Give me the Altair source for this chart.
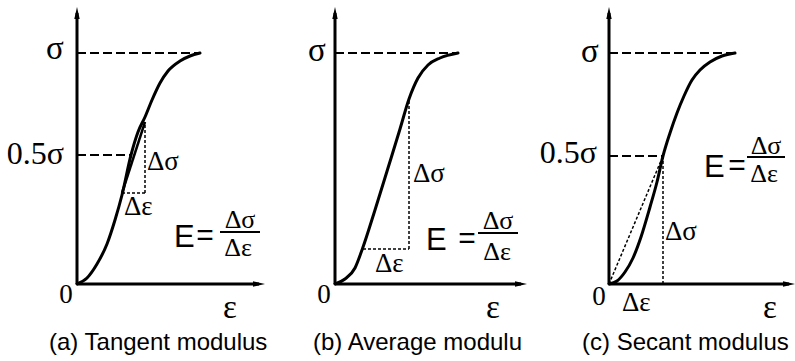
import altair as alt
import pandas as pd

# ---------------- data (ε, σ in diagram units measured from each origin) ----------------
# stress-strain curves
A_EPS = [0, 10, 20, 30, 38, 45, 54, 61, 68, 75, 83, 91, 103, 113, 123]
A_SIG = [0, 6, 20, 40, 64, 89, 129, 152, 167, 184, 201, 213, 223, 228, 231]
B_EPS = [0, 10, 20, 27, 40, 53, 65, 74, 83, 93, 105, 123]
B_SIG = [0, 5, 16, 34, 74, 116, 155, 185, 206, 219, 226, 231]
C_EPS = [0, 8, 16, 24, 32, 41, 48, 54, 61, 68, 75, 83, 91, 101, 113, 126]
C_SIG = [0, 3, 12, 26, 47, 77, 102, 128, 151, 171, 188, 204, 214, 222, 228, 231]

# axis ends (arrow positions)
AXIS_X_END = [182, 186, 180]
AXIS_Y_END = [271, 271, 271]

# dashed guide lines (e1, s1, e2, s2)
A_DASH = [(0, 231, 123, 231), (0, 129, 54, 129)]
B_DASH = [(0, 231, 123, 231)]
C_DASH = [(0, 231, 126, 231), (0, 128, 54, 128)]

# dotted construction lines
A_DOT = [(68, 91, 68, 162), (45, 91, 68, 91)]
B_DOT = [(28, 35, 74, 35), (74, 35, 74, 187)]
C_DOT = [(0, 0, 54, 128), (54, 0, 54, 128)]

# solid tangent segment (panel a)
A_TAN = [(45, 91, 68, 162)]

# fraction bars of E = Δσ/Δε
A_BAR = [(143, 52, 183, 52)]
B_BAR = [(143, 51, 183, 51)]
C_BAR = [(138, 127, 176, 127)]

# labels: (text, ε, σ)
A_SIGMA = [("σ", -22, 225)]
B_SIGMA = [("σ", -18, 223)]
C_SIGMA = [("σ", -19, 222)]
A_HALF = [("0.5σ", -13, 120)]
C_HALF = [("0.5σ", -12, 121)]
A_ZERO = [("0", -11, -19)]
B_ZERO = [("0", -11, -19)]
C_ZERO = [("0", -10, -21)]
A_EPSL = [("ε", 153, -34)]
B_EPSL = [("ε", 158, -34)]
C_EPSL = [("ε", 161, -34)]
A_DELTA = [("Δσ", 70, 114), ("Δε", 47, 69)]
B_DELTA = [("Δσ", 78, 102), ("Δε", 40, 12)]
C_DELTA = [("Δσ", 56, 44), ("Δε", 13, -27)]
A_FRAC = [("Δσ", 163, 56), ("Δε", 161, 28)]
B_FRAC = [("Δσ", 163, 55), ("Δε", 162, 24)]
C_FRAC = [("Δσ", 157, 130), ("Δε", 155, 102)]
A_E = [("E", 97, 37)]
B_E = [("E", 91, 34)]
C_E = [("E", 95, 107)]
A_EQ = [("=", 128, 39)]
B_EQ = [("=", 132, 36)]
C_EQ = [("=", 128, 109)]
TITLES = ["(a) Tangent modulus", "(b) Average modulu", "(c) Secant modulus"]
TITLE_POS = [(-28, -66), (-22, -66), (-27, -66)]

# ---------------- layout ----------------
PANEL_W = 265
PANEL_H = 361
ORIGIN_X = [77, 70, 79]   # origin offset inside each panel
ORIGIN_Y = 284            # origin offset from the top

SERIF = "Liberation Serif"
SANS = "Liberation Sans"


def seg_df(segs):
    return pd.DataFrame(segs, columns=["e", "s", "e2", "s2"])


def lab_df(labs):
    return pd.DataFrame(labs, columns=["t", "e", "s"])


def build_panel(i, ce, cs, dash, dot, tan, bar, texts):
    ox = ORIGIN_X[i]
    xs = alt.Scale(domain=[-ox, PANEL_W - ox], nice=False, zero=False)
    ys = alt.Scale(domain=[ORIGIN_Y - PANEL_H, ORIGIN_Y], nice=False, zero=False)
    X = lambda f="e": alt.X(f"{f}:Q", scale=xs, axis=None)
    Y = lambda f="s": alt.Y(f"{f}:Q", scale=ys, axis=None)

    layers = []
    axes = pd.DataFrame({"e": [0, 0], "s": [0, 0],
                         "e2": [AXIS_X_END[i], 0], "s2": [0, AXIS_Y_END[i]]})
    layers.append(alt.Chart(axes).mark_rule(color="black", strokeWidth=3).encode(
        x=X(), y=Y(), x2="e2:Q", y2="s2:Q"))
    up = pd.DataFrame({"e": [0], "s": [AXIS_Y_END[i]]})
    right = pd.DataFrame({"e": [AXIS_X_END[i]], "s": [0]})
    layers.append(alt.Chart(up).mark_point(
        shape="M0,-1L0.45,1L-0.45,1Z", size=144, filled=True, color="black", opacity=1
    ).encode(x=X(), y=Y()))
    layers.append(alt.Chart(right).mark_point(
        shape="M1,0L-1,0.45L-1,-0.45Z", size=144, filled=True, color="black", opacity=1
    ).encode(x=X(), y=Y()))

    layers.append(alt.Chart(seg_df(dash)).mark_rule(
        color="black", strokeWidth=2, strokeDash=[9, 4]).encode(
        x=X(), y=Y(), x2="e2:Q", y2="s2:Q"))
    layers.append(alt.Chart(seg_df(dot)).mark_rule(
        color="black", strokeWidth=1.5, strokeDash=[3, 2]).encode(
        x=X(), y=Y(), x2="e2:Q", y2="s2:Q"))
    if tan:
        layers.append(alt.Chart(seg_df(tan)).mark_rule(
            color="black", strokeWidth=2.5).encode(
            x=X(), y=Y(), x2="e2:Q", y2="s2:Q"))
    layers.append(alt.Chart(seg_df(bar)).mark_rule(
        color="black", strokeWidth=2).encode(
        x=X(), y=Y(), x2="e2:Q", y2="s2:Q"))

    curve = pd.DataFrame({"e": ce, "s": cs})
    layers.append(alt.Chart(curve).mark_line(
        color="black", strokeWidth=3, interpolate="monotone", strokeCap="round").encode(
        x=X(), y=Y(), order="e:Q"))

    for labs, font, size, align in texts:
        if not labs:
            continue
        layers.append(alt.Chart(lab_df(labs)).mark_text(
            font=font, fontSize=size, align=align, baseline="alphabetic", color="black"
        ).encode(x=X(), y=Y(), text="t:N"))

    tdf = pd.DataFrame({"t": [TITLES[i]], "e": [TITLE_POS[i][0]], "s": [TITLE_POS[i][1]]})
    layers.append(alt.Chart(tdf).mark_text(
        font=SANS, fontSize=24, align="left", baseline="alphabetic", color="black"
    ).encode(x=X(), y=Y(), text="t:N"))

    return alt.layer(*layers).properties(width=PANEL_W, height=PANEL_H)


pa = build_panel(0, A_EPS, A_SIG, A_DASH, A_DOT, A_TAN, A_BAR, [
    (A_SIGMA, SERIF, 33, "center"), (A_HALF, SERIF, 32, "right"),
    (A_ZERO, SERIF, 27, "center"), (A_EPSL, SERIF, 33, "center"),
    (A_DELTA, SERIF, 27, "left"), (A_FRAC, SERIF, 26, "center"),
    (A_E, SANS, 31, "left"), (A_EQ, SANS, 30, "center")])
pb = build_panel(1, B_EPS, B_SIG, B_DASH, B_DOT, None, B_BAR, [
    (B_SIGMA, SERIF, 33, "center"),
    (B_ZERO, SERIF, 27, "center"), (B_EPSL, SERIF, 33, "center"),
    (B_DELTA, SERIF, 27, "left"), (B_FRAC, SERIF, 26, "center"),
    (B_E, SANS, 31, "left"), (B_EQ, SANS, 30, "center")])
pc = build_panel(2, C_EPS, C_SIG, C_DASH, C_DOT, None, C_BAR, [
    (C_SIGMA, SERIF, 33, "center"), (C_HALF, SERIF, 32, "right"),
    (C_ZERO, SERIF, 27, "center"), (C_EPSL, SERIF, 33, "center"),
    (C_DELTA, SERIF, 27, "left"), (C_FRAC, SERIF, 26, "center"),
    (C_E, SANS, 31, "left"), (C_EQ, SANS, 30, "center")])

chart = alt.hconcat(pa, pb, pc, spacing=0, bounds="flush").properties(
    padding=0, background="white"
).configure_view(stroke=None)

chart.save("out.html", embed_options={"renderer": "svg", "actions": False})
